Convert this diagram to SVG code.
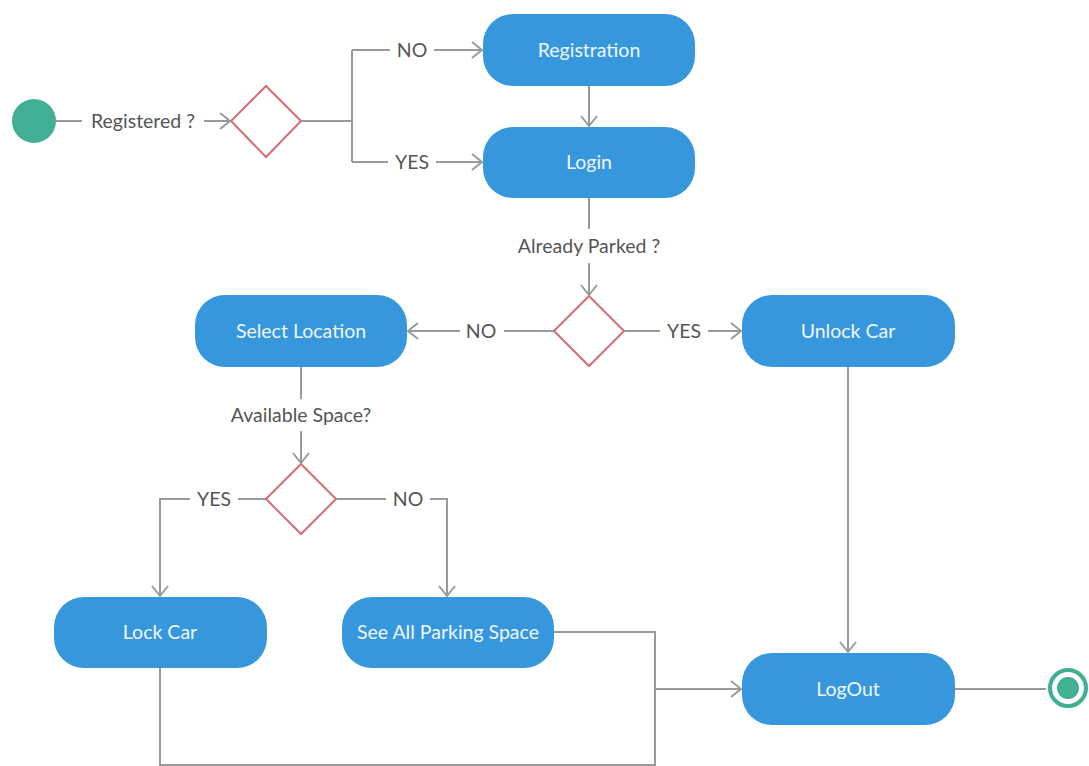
<svg xmlns="http://www.w3.org/2000/svg" width="1089" height="766" viewBox="0 0 1089 766">
<defs>
<marker id="arr" markerUnits="userSpaceOnUse" markerWidth="14" markerHeight="20" refX="12" refY="10" orient="auto">
<path d="M2,2 L12,10 L2,18" fill="none" stroke="#9a9a9a" stroke-width="2"/>
</marker>
<style>
.c{fill:none;stroke:#9a9a9a;stroke-width:2}
.box{fill:#3797dc}
.bt{font-family:Lato,"Open Sans",sans-serif;font-size:19.5px;fill:#eef6fc;text-anchor:middle}
.lb{font-family:Lato,"Open Sans",sans-serif;font-size:19.5px;fill:#555;text-anchor:middle}
.dia{fill:#fff;stroke:#d66d75;stroke-width:2}
</style>
</defs>
<rect width="1089" height="766" fill="#fff"/>
<g id="connectors">
<path class="c" d="M56,121 H82"/>
<path class="c" d="M204,121 H230" marker-end="url(#arr)"/>
<path class="c" d="M301,121 H352 M352,50 V162"/>
<path class="c" d="M352,50 H390"/>
<path class="c" d="M434,50 H482" marker-end="url(#arr)"/>
<path class="c" d="M352,162 H388"/>
<path class="c" d="M436,162 H482" marker-end="url(#arr)"/>
<path class="c" d="M589,86 V126" marker-end="url(#arr)"/>
<path class="c" d="M589,198 V229"/>
<path class="c" d="M589,263 V295" marker-end="url(#arr)"/>
<path class="c" d="M554,331 H504"/>
<path class="c" d="M460,331 H408" marker-end="url(#arr)"/>
<path class="c" d="M624,331 H660"/>
<path class="c" d="M708,331 H741" marker-end="url(#arr)"/>
<path class="c" d="M301,367 V399"/>
<path class="c" d="M301,431 V463" marker-end="url(#arr)"/>
<path class="c" d="M266,499 H238"/>
<path class="c" d="M190,499 H160 V596" marker-end="url(#arr)"/>
<path class="c" d="M336,499 H386"/>
<path class="c" d="M430,499 H447 V596" marker-end="url(#arr)"/>
<path class="c" d="M554,632 H655 V765 H160 V668"/>
<path class="c" d="M655,689 H741" marker-end="url(#arr)"/>
<path class="c" d="M848,367 V652" marker-end="url(#arr)"/>
<path class="c" d="M955,689 H1046"/>
</g>
<g id="start"><circle cx="34" cy="121" r="22" fill="#41ae96"/></g>
<g id="lbl-registered"><text class="lb" x="143" y="128">Registered ?</text></g>
<g id="decision1"><path class="dia" d="M266,86 L301,121 L266,157 L231,121 Z"/></g>
<g id="lbl-no1"><text class="lb" x="412" y="57">NO</text></g>
<g id="lbl-yes1"><text class="lb" x="412" y="169">YES</text></g>
<g id="registration"><rect class="box" x="483" y="14" width="212" height="72" rx="30"/><text class="bt" x="589" y="57">Registration</text></g>
<g id="login"><rect class="box" x="483" y="127" width="212" height="71" rx="30"/><text class="bt" x="589" y="169">Login</text></g>
<g id="lbl-parked"><text class="lb" x="589" y="253">Already Parked ?</text></g>
<g id="decision2"><path class="dia" d="M589,296 L624,331 L589,366 L554,331 Z"/></g>
<g id="lbl-no2"><text class="lb" x="481" y="338">NO</text></g>
<g id="lbl-yes2"><text class="lb" x="684" y="338">YES</text></g>
<g id="select-location"><rect class="box" x="195" y="295" width="212" height="72" rx="30"/><text class="bt" x="301" y="338">Select Location</text></g>
<g id="unlock-car"><rect class="box" x="742" y="295" width="213" height="72" rx="30"/><text class="bt" x="848" y="338">Unlock Car</text></g>
<g id="lbl-available"><text class="lb" x="301" y="422">Available Space?</text></g>
<g id="decision3"><path class="dia" d="M301,464 L336,499 L301,534 L266,499 Z"/></g>
<g id="lbl-yes3"><text class="lb" x="214" y="506">YES</text></g>
<g id="lbl-no3"><text class="lb" x="408" y="506">NO</text></g>
<g id="lock-car"><rect class="box" x="54" y="597" width="213" height="71" rx="30"/><text class="bt" x="160" y="639">Lock Car</text></g>
<g id="see-all"><rect class="box" x="342" y="597" width="212" height="71" rx="30"/><text class="bt" x="448" y="639">See All Parking Space</text></g>
<g id="logout"><rect class="box" x="742" y="653" width="213" height="72" rx="30"/><text class="bt" x="848" y="696">LogOut</text></g>
<g id="end"><circle cx="1068" cy="688" r="18" fill="#fff" stroke="#41ae96" stroke-width="4"/><circle cx="1068" cy="688" r="11" fill="#41ae96"/></g>
</svg>
